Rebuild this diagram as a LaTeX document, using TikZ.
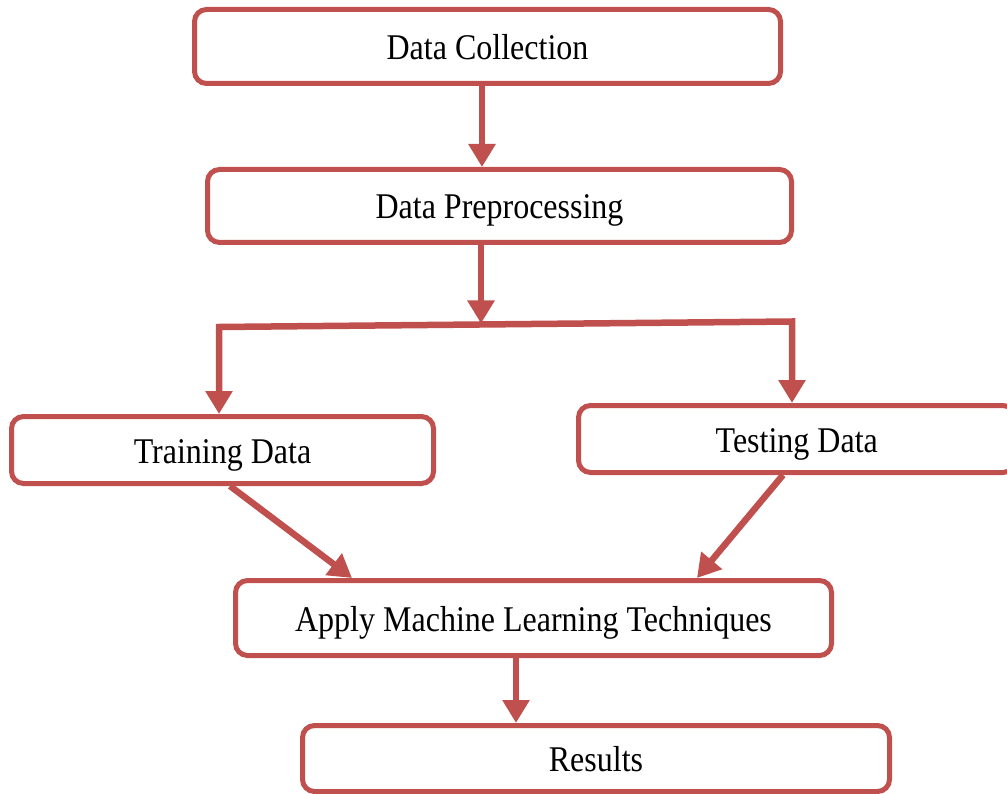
\documentclass[tikz,border=0pt]{standalone}
\usepackage{fontspec}
\setmainfont{Liberation Serif}
\usetikzlibrary{arrows.meta}
\definecolor{boxred}{HTML}{C0504D}
\newcommand{\stretchtxt}[1]{\scalebox{1}[1.13]{#1}}
\tikzset{
  flowbox/.style={draw=boxred, line width=5pt, rounded corners=12pt, fill=white,
    inner sep=0pt, text height=26pt, text depth=0pt,
    font=\fontsize{32}{38}\selectfont},
  flowarrow/.style={draw=boxred, line width=6.5pt, line join=miter,
    -{Triangle[width=26pt,length=23pt]}},
  splitarrow/.style={draw=boxred, line width=6.5pt, line join=miter,
    {Triangle[width=26pt,length=23pt]}-{Triangle[width=26pt,length=23pt]}}
}
\begin{document}
\begin{tikzpicture}[x=1pt,y=-1pt]
\useasboundingbox (0,0) rectangle (1007,794);
% boxes
\node[flowbox, minimum width=586pt, minimum height=74pt] (dc) at (487.5,46.5) {\stretchtxt{Data Collection}};
\node[flowbox, minimum width=584pt, minimum height=73pt] (dp) at (499.5,206) {\stretchtxt{Data Preprocessing}};
\node[flowbox, minimum width=422pt, minimum height=67pt] (tr) at (222.5,450) {\stretchtxt{Training Data}};
\node[flowbox, minimum width=436.5pt, minimum height=67pt] (te) at (796.75,439) {\stretchtxt{Testing Data}};
\node[flowbox, minimum width=596pt, minimum height=75pt] (ap) at (533.5,618) {\stretchtxt{Apply Machine Learning Techniques}};
\node[flowbox, minimum width=587pt, minimum height=66pt] (rs) at (596,758.5) {\stretchtxt{Results}};
% helper coordinates
\coordinate (x1) at (482,0);
\coordinate (sp) at (481,323.5);
\coordinate (sL) at (219,327);
\coordinate (sR) at (792,321.5);
\coordinate (x3) at (230,0);
\coordinate (x4) at (352,0);
\coordinate (x5) at (783,0);
\coordinate (x6) at (697,0);
\coordinate (x7) at (516,0);
% connectors
\draw[flowarrow] (x1 |- dc.south) -- (x1 |- dp.north);
\draw[flowarrow] (sp |- dp.south) -- (sp);
\draw[splitarrow] (sL |- tr.north) -- (sL) -- (sR) -- (sR |- te.north);
\draw[flowarrow] (x3 |- tr.south) -- (x4 |- ap.north);
\draw[flowarrow] (x5 |- te.south) -- (x6 |- ap.north);
\draw[flowarrow] (x7 |- ap.south) -- (x7 |- rs.north);
\end{tikzpicture}
\end{document}
